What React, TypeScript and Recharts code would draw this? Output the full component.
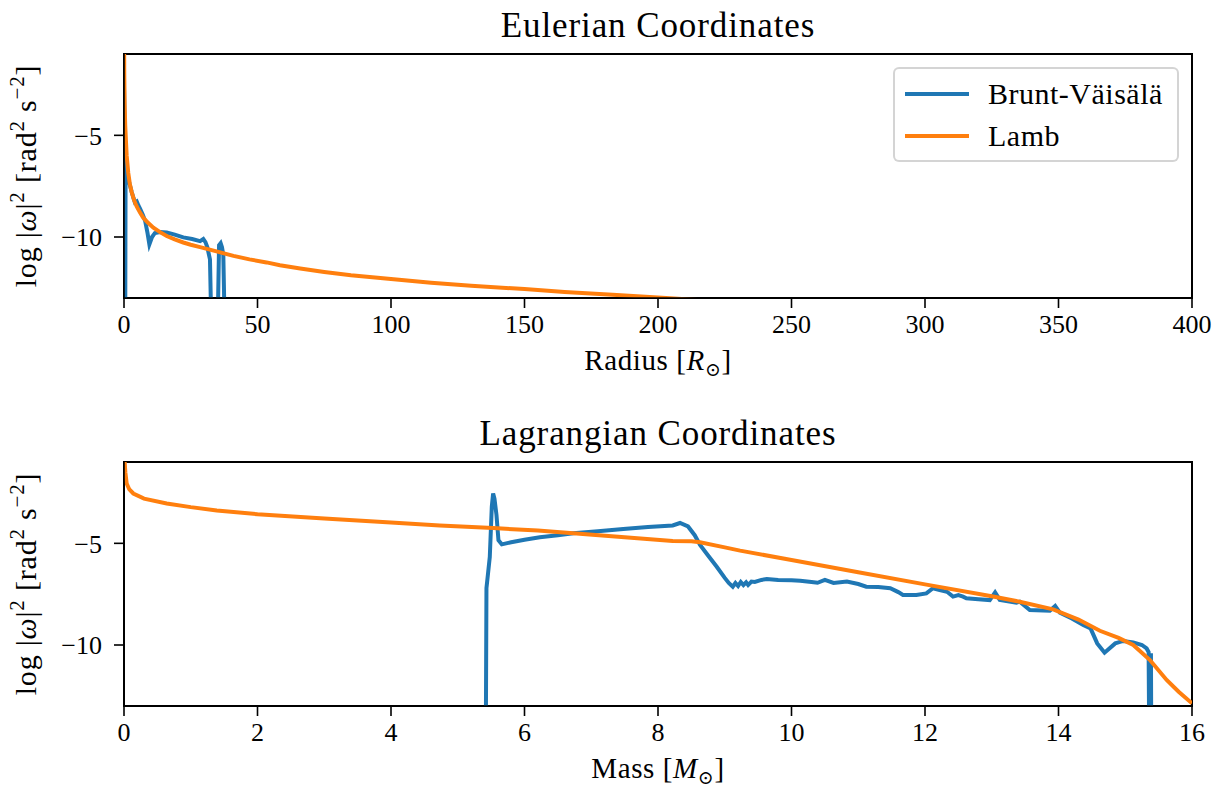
import React from 'react';
import { LineChart, Line, XAxis, YAxis, Legend, Label, ReferenceArea } from 'recharts';

const FONT = '"Liberation Serif", "DejaVu Serif", serif';
const BLUE = '#1f77b4';
const ORANGE = '#ff7f0e';

// ---- axis ticks ----
const radiusTicks = [0, 50, 100, 150, 200, 250, 300, 350, 400];
const massTicks = [0, 2, 4, 6, 8, 10, 12, 14, 16];
const logTicks = [-10, -5];
const logMin = -13;
const logMax = -1;

// ---- Eulerian: Brunt-Väisälä vs radius ----
const euBruntRadius = [0, 0.15, 0.3, 0.45, 0.6, 0.75, 1.8, 2.9, 3.6, 4.1, 4.76, 5.4, 6.0, 7.0, 7.9, 8.8, 9.5, 10.5, 11.6, 13.5, 16, 19, 22.2, 25.5, 28.5, 29.7, 30.5, 31.2, 32.2, 32.8, 35.0, 35.6, 36.2, 36.7, 37.2, 37.8];
const euBruntLog = [-2.6, -3.8, -15, -15, -6.2, -6.5, -7.25, -7.8, -8.1, -8.3, -8.25, -8.45, -8.6, -8.9, -9.2, -9.8, -10.36, -10.0, -9.8, -9.75, -9.78, -9.88, -10.02, -10.1, -10.2, -10.1, -10.25, -10.5, -11.1, -15, -15, -10.4, -10.3, -10.5, -10.9, -15];

// ---- Eulerian: Lamb vs radius ----
const euLambRadius = [0, 0.1, 0.25, 0.45, 0.7, 1.0, 1.6, 2.2, 2.9, 3.8, 4.75, 6.0, 7.2, 9.0, 11, 13.5, 16, 19, 22.2, 25, 28.5, 35, 41, 47, 53.4, 58.4, 66, 75, 85, 100, 115, 130, 150, 165, 183, 200, 215, 240];
const euLambLog = [0.5, -2.0, -3.5, -4.5, -5.2, -6.0, -6.85, -7.4, -7.8, -8.2, -8.5, -8.8, -9.05, -9.3, -9.54, -9.76, -9.95, -10.12, -10.27, -10.38, -10.5, -10.72, -10.93, -11.1, -11.25, -11.39, -11.55, -11.72, -11.88, -12.07, -12.25, -12.4, -12.56, -12.7, -12.84, -12.97, -13.1, -13.3];

// ---- Lagrangian: Brunt-Väisälä vs mass ----
const laBruntMass = [5.42, 5.43, 5.44, 5.48, 5.51, 5.53, 5.55, 5.58, 5.61, 5.66, 5.8, 6.0, 6.23, 6.5, 6.73, 7.1, 7.48, 7.85, 8.22, 8.33, 8.45, 8.55, 8.63, 8.75, 8.88, 9.0, 9.06, 9.12, 9.16, 9.2, 9.24, 9.28, 9.32, 9.35, 9.4, 9.45, 9.55, 9.63, 9.8, 10.0, 10.13, 10.3, 10.39, 10.5, 10.63, 10.83, 11.0, 11.12, 11.3, 11.48, 11.6, 11.67, 11.87, 12.02, 12.12, 12.22, 12.33, 12.42, 12.5, 12.57, 12.62, 12.8, 12.97, 13.05, 13.12, 13.37, 13.42, 13.57, 13.87, 13.95, 14.02, 14.2, 14.37, 14.48, 14.58, 14.69, 14.85, 14.97, 15.12, 15.25, 15.32, 15.35, 15.36, 15.38, 15.385, 15.39];
const laBruntLog = [-15, -7.2, -6.9, -5.67, -3.2, -2.55, -2.8, -3.6, -4.85, -5.05, -4.95, -4.82, -4.7, -4.6, -4.5, -4.4, -4.3, -4.2, -4.12, -4.0, -4.17, -4.6, -5.08, -5.6, -6.15, -6.7, -6.95, -7.13, -6.95, -7.1, -6.9, -7.05, -6.92, -7.05, -6.88, -6.9, -6.8, -6.75, -6.8, -6.82, -6.84, -6.9, -6.94, -6.8, -6.95, -6.88, -7.0, -7.13, -7.15, -7.21, -7.4, -7.54, -7.54, -7.46, -7.21, -7.3, -7.38, -7.62, -7.55, -7.62, -7.7, -7.75, -7.79, -7.41, -7.78, -7.92, -7.87, -8.28, -8.31, -8.08, -8.41, -8.7, -9.02, -9.18, -9.92, -10.38, -9.92, -9.8, -9.87, -10.0, -10.17, -10.35, -15, -15, -10.4, -15];

// ---- Lagrangian: Lamb vs mass ----
const laLambMass = [0, 0.02, 0.04, 0.08, 0.14, 0.3, 0.64, 1.0, 1.39, 2, 3, 4, 4.73, 5.53, 6.2, 6.73, 7.5, 8.22, 8.5, 8.63, 9.0, 9.23, 10, 11, 12, 13, 13.42, 13.92, 14.3, 14.62, 14.9, 15.12, 15.37, 15.62, 15.8, 16];
const laLambLog = [-0.5, -1.5, -2.06, -2.35, -2.55, -2.8, -3.04, -3.22, -3.38, -3.57, -3.78, -3.97, -4.12, -4.25, -4.37, -4.5, -4.7, -4.89, -4.9, -4.95, -5.2, -5.36, -5.82, -6.42, -7.02, -7.6, -7.87, -8.25, -8.75, -9.3, -9.65, -10.0, -10.74, -11.72, -12.3, -12.87];

const zip = (xs: number[], ys: number[]) => xs.map((x, i) => ({ x, y: ys[i] }));

const fmtTick = (v: number) => (v < 0 ? `\u2212${Math.abs(v)}` : `${v}`);

const tickStyle = { fontFamily: FONT, fontSize: 26, fill: '#000' };
const AXIS_W = 1.6;
const LINE_W = 4;

const YLabel = (props: any) => {
  const vb = props.viewBox || { y: 0, height: 0 };
  const cy = vb.y + vb.height / 2;
  return (
    <text transform={`translate(36, ${cy}) rotate(-90)`} textAnchor="middle" fontFamily={FONT} fontSize={30} letterSpacing={0.8} fill="#000">
      <tspan>log |</tspan>
      <tspan fontStyle="italic">ω</tspan>
      <tspan>|</tspan>
      <tspan fontSize={21} dy={-12}>2</tspan>
      <tspan dy={12}> [rad</tspan>
      <tspan fontSize={21} dy={-12}>2</tspan>
      <tspan dy={12}> s</tspan>
      <tspan fontSize={21} dy={-12}>{'\u22122'}</tspan>
      <tspan dy={12}>]</tspan>
    </text>
  );
};

const makeXLabel = (word: string, sym: string) => (props: any) => {
  const vb = props.viewBox || { x: 0, y: 0, width: 0 };
  const cx = vb.x + vb.width / 2;
  return (
    <text x={cx} y={vb.y + 72} textAnchor="middle" fontFamily={FONT} fontSize={29} letterSpacing={0.6} fill="#000">
      <tspan>{word} [</tspan>
      <tspan fontStyle="italic">{sym}</tspan>
      <tspan fontSize={19} dy={6}>⊙</tspan>
      <tspan dy={-6}>]</tspan>
    </text>
  );
};

const makeTitle = (title: string) => (props: any) => {
  const vb = props.viewBox || { x: 0, y: 0, width: 0 };
  const cx = vb.x + vb.width / 2;
  return (
    <text x={cx} y={vb.y - 17} textAnchor="middle" fontFamily={FONT} fontSize={35} letterSpacing={0.9} fill="#000">
      {title}
    </text>
  );
};

const LegendBox = (props: any) => {
  const payload = (props.payload || []).filter((p: any) => p && p.value);
  return (
    <div
      style={{
        position: 'relative',
        width: 286,
        height: 95,
        boxSizing: 'border-box',
        border: '2px solid rgba(204,204,204,0.85)',
        borderRadius: 6,
        background: 'rgba(255,255,255,0.8)',
        fontFamily: FONT,
        fontSize: 30,
        letterSpacing: 0.5,
        color: '#000',
      }}
    >
      {payload.map((p: any, i: number) => (
        <div key={p.value} style={{ position: 'absolute', left: 0, top: 25 + i * 42 - 20, height: 40, width: 284 }}>
          <svg width={70} height={40} style={{ position: 'absolute', left: 8, top: 0 }}>
            <line x1={2} x2={66} y1={20} y2={20} stroke={p.color} strokeWidth={LINE_W} />
          </svg>
          <span style={{ position: 'absolute', left: 93, top: 0, lineHeight: '40px', whiteSpace: 'nowrap' }}>{p.value}</span>
        </div>
      ))}
    </div>
  );
};

interface PanelProps {
  title: string;
  xWord: string;
  xSym: string;
  xTicks: number[];
  xMax: number;
  brunt: { x: number; y: number }[];
  lamb: { x: number; y: number }[];
  topMargin: number;
  bottomMargin: number;
  legend: boolean;
}

const Panel = (p: PanelProps) => (
  <LineChart width={1226} height={400} margin={{ top: p.topMargin, right: 34, bottom: p.bottomMargin, left: 64 }}>
    <XAxis
      dataKey="x"
      type="number"
      domain={[0, p.xMax]}
      ticks={p.xTicks}
      allowDataOverflow
      height={60}
      tickSize={10}
      tickMargin={7}
      tick={tickStyle}
      tickFormatter={fmtTick}
      axisLine={{ stroke: '#000', strokeWidth: AXIS_W }}
      tickLine={{ stroke: '#000', strokeWidth: AXIS_W }}
    >
      <Label content={makeXLabel(p.xWord, p.xSym)} />
    </XAxis>
    <YAxis
      type="number"
      domain={[logMin, logMax]}
      ticks={logTicks}
      allowDataOverflow
      width={60}
      tickSize={10}
      tickMargin={12}
      tick={tickStyle}
      tickFormatter={fmtTick}
      axisLine={{ stroke: '#000', strokeWidth: AXIS_W }}
      tickLine={{ stroke: '#000', strokeWidth: AXIS_W }}
    >
      <Label content={YLabel} />
    </YAxis>
    <Line
      data={p.brunt}
      dataKey="y"
      name="Brunt-Väisälä"
      type="linear"
      stroke={BLUE}
      strokeWidth={LINE_W}
      dot={false}
      activeDot={false}
      isAnimationActive={false}
    />
    <Line
      data={p.lamb}
      dataKey="y"
      name="Lamb"
      type="linear"
      stroke={ORANGE}
      strokeWidth={LINE_W}
      dot={false}
      activeDot={false}
      isAnimationActive={false}
    />
    <ReferenceArea
      x1={0}
      x2={p.xMax}
      y1={logMin}
      y2={logMax}
      ifOverflow="visible"
      fill="none"
      fillOpacity={0}
      stroke="#000"
      strokeWidth={2}
      strokeOpacity={1}
    >
      <Label content={makeTitle(p.title)} />
    </ReferenceArea>
    {p.legend && (
      <Legend
        layout="horizontal"
        verticalAlign="middle"
        align="center"
        wrapperStyle={{ position: 'absolute', left: 893, top: 67, width: 286, height: 95, margin: 0 }}
        content={LegendBox}
      />
    )}
  </LineChart>
);

export default function App() {
  return (
    <div style={{ position: 'absolute', left: 0, top: 0, width: 1226, height: 800, background: '#fff', overflow: 'hidden' }}>
      <div style={{ position: 'absolute', left: 0, top: 0 }}>
        <Panel
          title="Eulerian Coordinates"
          xWord="Radius"
          xSym="R"
          xTicks={radiusTicks}
          xMax={400}
          brunt={zip(euBruntRadius, euBruntLog)}
          lamb={zip(euLambRadius, euLambLog)}
          topMargin={54}
          bottomMargin={42}
          legend={true}
        />
      </div>
      <div style={{ position: 'absolute', left: 0, top: 400 }}>
        <Panel
          title="Lagrangian Coordinates"
          xWord="Mass"
          xSym="M"
          xTicks={massTicks}
          xMax={16}
          brunt={zip(laBruntMass, laBruntLog)}
          lamb={zip(laLambMass, laLambLog)}
          topMargin={62}
          bottomMargin={34}
          legend={false}
        />
      </div>
    </div>
  );
}
